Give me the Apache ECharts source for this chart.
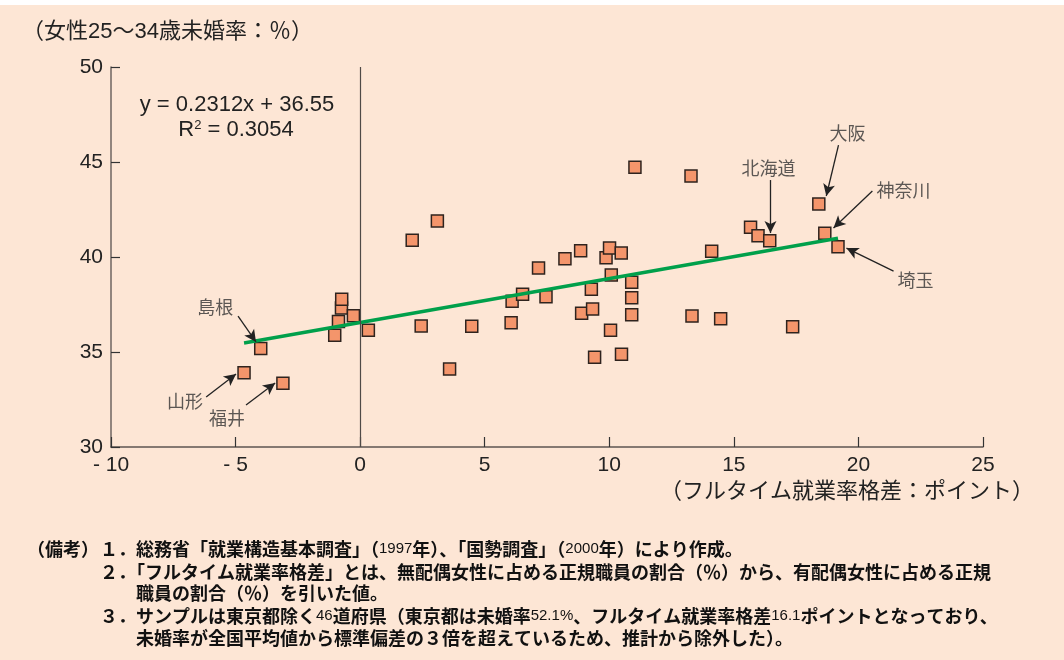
<!DOCTYPE html>
<html>
<head>
<meta charset="utf-8">
<script src="https://cdn.jsdelivr.net/npm/echarts@6/dist/echarts.min.js"></script>
<style>
  html, body { margin: 0; padding: 0; background: #ffffff; }
  #chart { position: absolute; left: 0; top: 5px; width: 1064px; height: 655px; }
</style>
</head>
<body>
<div id="chart"></div>
<script>
// フルタイム就業率格差（ポイント）と女性25～34歳未婚率（％）、46道府県
const fullTimeGap = [-4.66, -3.99, -3.10, -1.02, -0.87, -0.75, -0.74, -0.27, 0.33, 2.09,
  2.45, 3.10, 3.59, 4.48, 6.06, 6.10, 6.52, 7.16, 7.46, 8.22,
  8.85, 8.89, 9.28, 9.33, 9.41, 9.87, 10.01, 10.05, 10.08, 10.48,
  10.49, 10.90, 10.90, 10.90, 11.03, 13.28, 13.32, 14.11, 14.47, 15.67,
  15.97, 16.44, 17.36, 18.41, 18.65, 19.18];
const unmarriedRate = [33.91, 35.19, 33.35, 35.88, 36.60, 37.32, 37.77, 36.91, 36.14, 40.88,
  36.37, 41.90, 34.10, 36.35, 36.54, 37.67, 38.04, 39.42, 37.91, 39.91,
  40.33, 37.04, 38.30, 37.26, 34.72, 39.96, 40.47, 36.14, 39.05, 40.21,
  34.88, 38.67, 37.86, 36.96, 44.72, 44.26, 36.89, 40.30, 36.75, 41.56,
  41.12, 40.86, 36.33, 42.79, 41.25, 40.54];

// 回帰式 y = 0.2312x + 36.55、R² = 0.3054
const slope = 0.2312;
const intercept = 36.55;
const rSquared = '0.3054';

const xTicks = [-10, -5, 0, 5, 10, 15, 20, 25];
const yTicks = [30, 35, 40, 45, 50];

// 名前付きの県：点の番号、ラベル位置、矢印の始点と終点（データ座標）
const calloutNames = ['山形', '島根', '福井', '北海道', '大阪', '神奈川', '埼玉'];
const calloutIndex = [0, 1, 2, 41, 43, 44, 45];
const calloutLabelAt = [[-7.03, 32.42], [-5.82, 37.37], [-5.34, 31.53], [16.39, 44.68], [19.56, 46.53], [21.81, 43.53], [22.29, 38.79]];
const calloutFrom = [[-6.18, 32.63], [-4.90, 36.89], [-4.58, 32.21], [16.47, 44.05], [19.20, 45.89], [20.56, 43.47], [21.41, 39.26]];
const calloutTo = [[-4.98, 33.84], [-4.18, 35.53], [-3.41, 33.37], [16.47, 41.26], [18.71, 43.21], [19.00, 41.53], [19.52, 40.47]];

const notes = [
  '１．総務省「就業構造基本調査」（{n|1997}年）、「国勢調査」（{n|2000}年）により作成。',
  '２．「フルタイム就業率格差」とは、無配偶女性に占める正規職員の割合（％）から、有配偶女性に占める正規',
  '職員の割合（％）を引いた値。',
  '３．サンプルは東京都除く{n|46}道府県（東京都は未婚率{n|52.1%}、フルタイム就業率格差{n|16.1}ポイントとなっており、',
  '未婚率が全国平均値から標準偏差の３倍を超えているため、推計から除外した）。'
];

const SANS = '"Liberation Sans", Arial, "Noto Sans CJK JP", sans-serif';
const CJK = '"Noto Sans CJK JP", "Liberation Sans", sans-serif';
const BG = '#fde6d5';
const TEXT = '#222222';

const points = fullTimeGap.map((x, i) => [x, unmarriedRate[i]]);
const xMin = Math.min(...fullTimeGap);
const xMax = Math.max(...fullTimeGap);
const trend = [[xMin, slope * xMin + intercept], [xMax, slope * xMax + intercept]];

const noteX = [100, 100, 136, 100, 136];
const noteY = [544, 567, 588, 611, 633];
const noteStyle = { fontFamily: CJK, fontWeight: 'bold', fontSize: 18, fill: '#111' };
const noteRich = { n: { fontFamily: '"Liberation Sans Narrow", "Liberation Sans", Arial, sans-serif', fontSize: 15, fontWeight: 'normal' } };

const graphics = [
  { type: 'text', left: 22, top: 16, style: { text: '（女性25～34歳未婚率：％）', fontFamily: SANS, fontSize: 22, fill: TEXT } },
  { type: 'text', right: 30, top: 476, style: { text: '（フルタイム就業率格差：ポイント）', fontFamily: SANS, fontSize: 22, fill: TEXT } },
  { type: 'text', x: 237, y: 100, style: { text: 'y = ' + slope + 'x + ' + intercept, fontFamily: SANS, fontSize: 22, fill: TEXT, align: 'center', verticalAlign: 'middle' } },
  { type: 'text', x: 236, y: 125, style: { text: 'R{sup|2} = ' + rSquared, fontFamily: SANS, fontSize: 22, fill: TEXT, align: 'center', verticalAlign: 'middle',
      rich: { sup: { fontSize: 13, verticalAlign: 'top', padding: [0, 0, 9, 0] } } } },
  { type: 'text', x: 27, y: noteY[0], style: Object.assign({ text: '（備考）', verticalAlign: 'middle' }, noteStyle) }
];
notes.forEach((t, i) => {
  graphics.push({ type: 'text', x: noteX[i], y: noteY[i],
    style: Object.assign({ text: t, verticalAlign: 'middle', rich: noteRich }, noteStyle) });
});

// 0 の縦線と、県名から点への矢印
const zeroLine = [
  { coord: [0, yTicks[0]], symbol: 'none', lineStyle: { color: '#4f4a47', width: 1.2 } },
  { coord: [0, yTicks[yTicks.length - 1]], symbol: 'none' }
];
const guideLines = [zeroLine].concat(
  calloutIndex.map((_, i) => [
    { coord: calloutFrom[i], symbol: 'none' },
    { coord: calloutTo[i], symbol: 'arrow', symbolSize: [9, 12] }
  ])
);

const chart = echarts.init(document.getElementById('chart'), null, { renderer: 'canvas' });
chart.setOption({
  backgroundColor: BG,
  animation: false,
  grid: { left: 111, right: 81, top: 62, bottom: 213, containLabel: false },
  xAxis: {
    type: 'value', min: xTicks[0], max: xTicks[xTicks.length - 1], interval: 5,
    axisLine: { onZero: false, lineStyle: { color: '#5e5652', width: 1.5 } },
    axisTick: { inside: true, length: 10, lineStyle: { color: '#333', width: 1.2 } },
    splitLine: { show: false },
    axisLabel: { margin: 8, fontFamily: SANS, fontSize: 21, color: TEXT,
      formatter: v => v < 0 ? '- ' + Math.abs(v) : String(v) }
  },
  yAxis: {
    type: 'value', min: yTicks[0], max: yTicks[yTicks.length - 1], interval: 5,
    axisLine: { show: true, onZero: false, lineStyle: { color: '#6e6560', width: 1.5 } },
    axisTick: { show: true, inside: true, length: 9, lineStyle: { color: '#333', width: 1.2 } },
    splitLine: { show: false },
    axisLabel: { margin: 8, fontFamily: SANS, fontSize: 21, color: TEXT }
  },
  graphic: graphics,
  series: [
    {
      type: 'scatter', data: points, symbol: 'rect', symbolSize: 12, z: 3,
      itemStyle: { color: '#f4956b', borderColor: '#2e231e', borderWidth: 1.5, opacity: 1 },
      markLine: {
        silent: true, symbol: ['none', 'arrow'], symbolSize: [9, 12], label: { show: false },
        itemStyle: { color: '#222' },
        lineStyle: { color: '#222', width: 1.3, type: 'solid' },
        data: guideLines
      }
    },
    {
      type: 'line', data: trend, symbol: 'none', z: 4,
      lineStyle: { color: '#00a04b', width: 3.5 }
    },
    {
      type: 'scatter', symbolSize: 0, z: 5, silent: true,
      data: calloutNames.map((n, i) => ({ name: n, value: calloutLabelAt[i] })),
      label: { show: true, position: 'inside', formatter: p => p.name, fontFamily: CJK, fontSize: 18, color: '#333' }
    }
  ]
});
</script>
</body>
</html>
